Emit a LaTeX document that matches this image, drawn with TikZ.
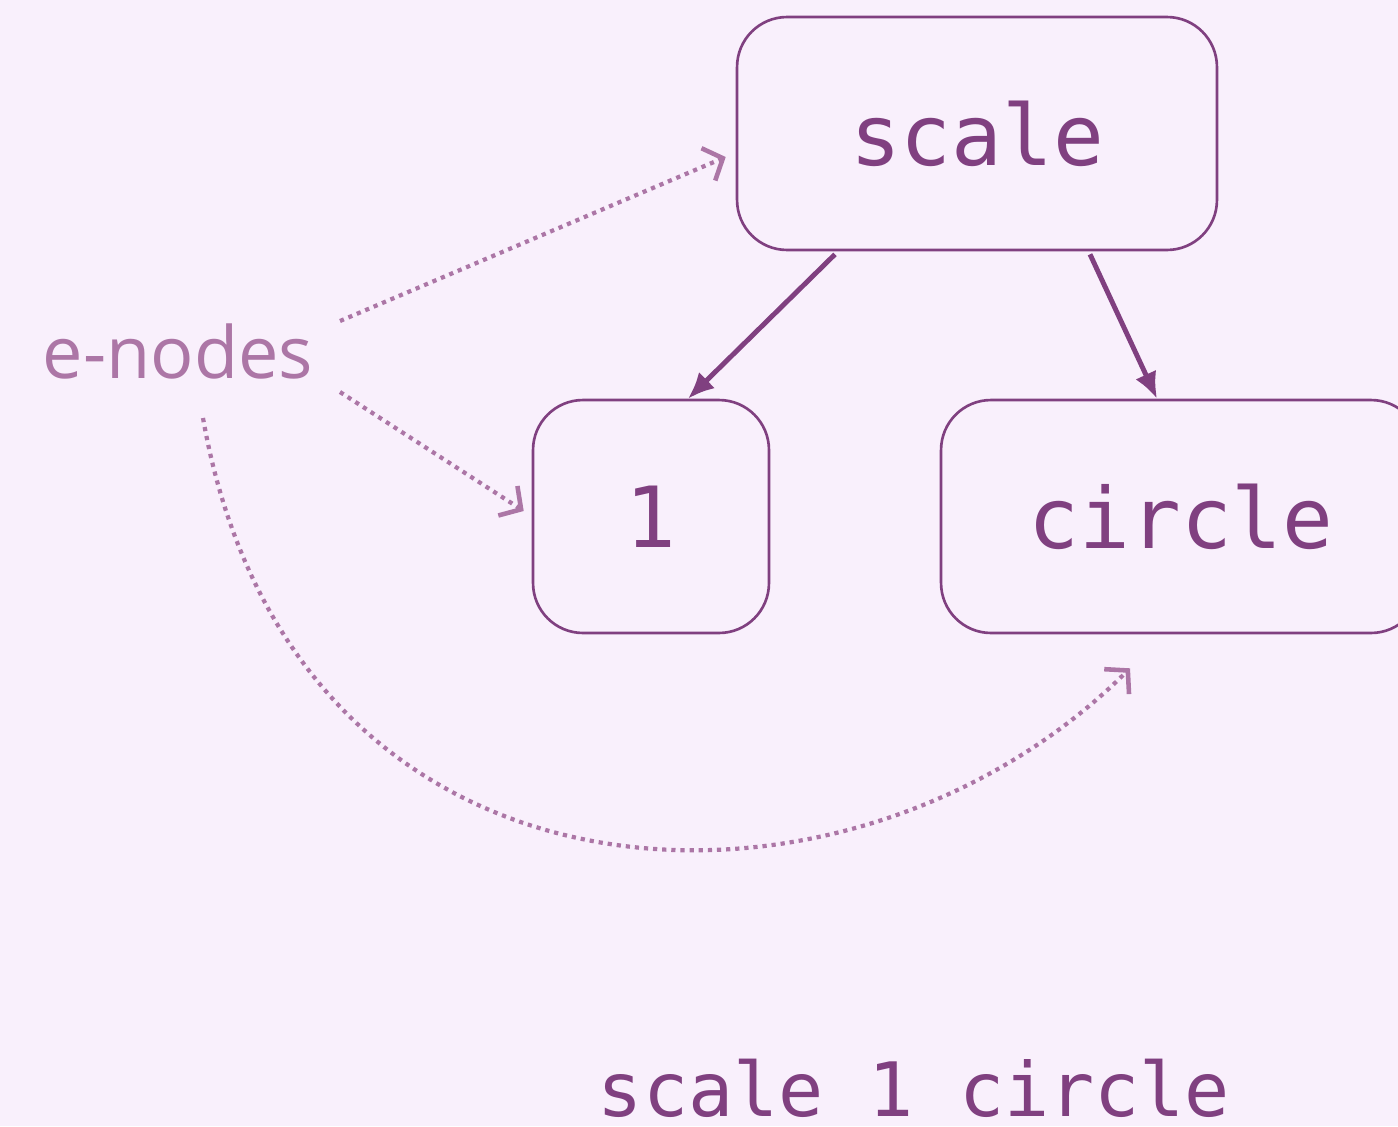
\documentclass[tikz,border=0pt]{standalone}
\usepackage{fontspec}
\setmainfont{Open Sans}
\setmonofont{DejaVu Sans Mono}
\usetikzlibrary{arrows.meta,calc}
\definecolor{TreePlum}{RGB}{128,64,128}
\definecolor{TreeLilac}{RGB}{172,118,166}
\definecolor{TreeBg}{RGB}{249,240,252}
\tikzset{
  tree/box/.style={
    draw=TreePlum,
    line width=1.5pt,
    rounded corners=1cm,
    fill=TreeBg,
    align=center,
    text=TreePlum,
    minimum height=4.66cm,
    inner sep=0pt,
    font=\fontsize{48}{48}\ttfamily
  },
  tree/arrow/.style={-{Latex[length=15pt,width=13pt]}, line width=2.8pt, draw=TreePlum},
  tree/dotarrow/.style={-{Straight Barb[length=9pt,width=20pt,line width=2.6pt]}, line width=2.4pt, dash pattern=on 2.4pt off 2.8pt, draw=TreeLilac},
  tree/title/.style={font=\fontsize{41}{41}\selectfont, text=TreeLilac, inner sep=0pt},
  tree/code/.style={font=\fontsize{42.7}{42.7}\ttfamily, text=TreePlum, inner sep=0pt}
}

\begin{document}
\begin{tikzpicture}[x=0.02cm,y=-0.02cm]
  \path[fill=TreeBg,use as bounding box] (0,0) rectangle (1398,1126);
  \node[tree/box,minimum width=9.6cm] (scale) at (977,133.5) {scale};
  \node[tree/box,minimum width=4.72cm] (one) at (651,516.5) {1};
  \node[tree/box,minimum width=9.6cm] (circle) at (1181,516.5) {circle};
  \node[tree/title] (enodes) at (178,351) {e-nodes};
  \node[tree/code] (expr) at (914,1088) {scale 1 circle};
  \draw[tree/arrow] ($(scale.south)+(-142,3)$) -- ($(one.north)+(37,0)$);
  \draw[tree/arrow] ($(scale.south)+(113,3)$) -- ($(circle.north)+(-24,0)$);
  \draw[tree/dotarrow] ($(enodes)+(162,-30)$) -- ($(scale.west)+(-10,23.5)$);
  \draw[tree/dotarrow] ($(enodes)+(162,41)$) -- ($(one.west)+(-8,-5.5)$);
  \draw[tree/dotarrow] ($(enodes)+(25,67)$) .. controls (293,930) and (847,950) .. ($(circle.south)+(-51,34)$);
\end{tikzpicture}
\end{document}
